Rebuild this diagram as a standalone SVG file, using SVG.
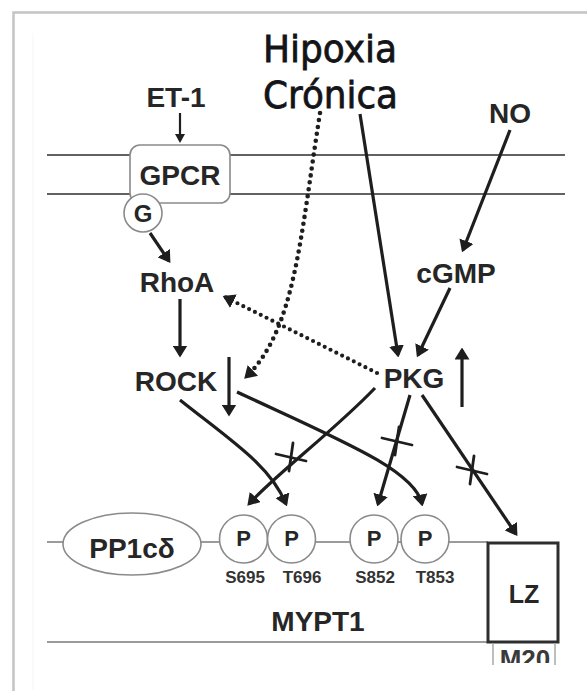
<svg xmlns="http://www.w3.org/2000/svg" width="587" height="691" viewBox="0 0 587 691">
  <style>
    .lbl{font-family:"Liberation Sans",Arial,Helvetica,sans-serif;font-weight:bold;font-size:28px;fill:#262626;text-anchor:middle}
    .p{font-size:22px}
    .site{font-size:17px;fill:#333}
    .title{font-family:"DejaVu Sans",Verdana,Tahoma,sans-serif;font-size:38px;fill:#141418;stroke:#141418;stroke-width:0.8}
    .mem{stroke:#2e2e2e;stroke-width:1.6;fill:none}
    .outline{stroke:#8a8a8a;stroke-width:1.6;fill:#fff}
    .chain{stroke:#7a7a7a;stroke-width:1.6;fill:none}
    .arr{stroke:#1e1e1e;stroke-width:3.2;fill:none;marker-end:url(#head)}
    .arrS{stroke:#1e1e1e;stroke-width:2.2;fill:none;marker-end:url(#headS)}
    .dot{stroke:#1e1e1e;stroke-width:4.6;stroke-linecap:round;stroke-dasharray:0 7;fill:none;marker-end:url(#head)}
    .dot2{stroke:#1e1e1e;stroke-width:4.2;stroke-linecap:round;stroke-dasharray:0 6.5;fill:none;marker-end:url(#head)}
    .x{stroke:#1e1e1e;stroke-width:2.8;stroke-linecap:round;fill:none}
  </style>
  <defs>
    <marker id="head" viewBox="0 0 12 15" refX="9.5" refY="7.5" markerWidth="12" markerHeight="15" markerUnits="userSpaceOnUse" orient="auto">
      <path d="M0,0 L12,7.5 L0,15 z" fill="#1e1e1e"/>
    </marker>
    <marker id="headS" viewBox="0 0 9 10" refX="7" refY="5" markerWidth="9" markerHeight="10" markerUnits="userSpaceOnUse" orient="auto">
      <path d="M0,0 L9,5 L0,10 z" fill="#1e1e1e"/>
    </marker>
    <!-- inhibition mark placed across a phosphorylation arrow -->
    <g id="block">
      <line x1="-15" y1="-3" x2="15" y2="4"/>
      <line x1="2" y1="-14" x2="-2" y2="14"/>
    </g>
    <clipPath id="m20clip">
      <rect x="480" y="640" width="90" height="23"/>
    </clipPath>
  </defs>

  <!-- page frame -->
  <rect width="587" height="691" fill="#fff"/>
  <path d="M13.5,691 L13.5,12.5 L587,12.5" fill="none" stroke="#c4c4c4" stroke-width="2.5"/>
  <path d="M33,690 L33,33" fill="none" stroke="#f6f6f6" stroke-width="1"/>

  <!-- plasma membrane -->
  <g id="membrane">
    <line class="mem" x1="47" y1="155" x2="565" y2="155"/>
    <line class="mem" x1="47" y1="194" x2="565" y2="194"/>
  </g>

  <!-- MYPT1 chain -->
  <g id="mypt1">
    <line class="chain" x1="47" y1="542" x2="488" y2="542"/>
    <line class="chain" x1="47" y1="642" x2="488" y2="642"/>
    <text class="lbl" x="318" y="631">MYPT1</text>
  </g>

  <g id="title">
    <text class="title" x="263" y="62" textLength="134" lengthAdjust="spacingAndGlyphs">Hipoxia</text>
    <text class="title" x="263" y="108" textLength="135" lengthAdjust="spacingAndGlyphs">Crónica</text>
  </g>

  <g id="et1"><text class="lbl" x="176" y="107">ET-1</text></g>
  <g id="no"><text class="lbl" x="510" y="123">NO</text></g>

  <g id="gpcr">
    <rect class="outline" x="130" y="145" width="100" height="58" rx="10"/>
    <text class="lbl" x="180" y="185">GPCR</text>
  </g>
  <g id="gprotein">
    <circle class="outline" cx="143" cy="213" r="19"/>
    <text class="lbl" x="143" y="222" style="font-size:24px">G</text>
  </g>

  <g id="rhoa"><text class="lbl" x="177" y="292">RhoA</text></g>
  <g id="rock"><text class="lbl" x="176" y="391">ROCK</text></g>
  <g id="cgmp"><text class="lbl" x="456" y="283">cGMP</text></g>
  <g id="pkg"><text class="lbl" x="414" y="388">PKG</text></g>

  <g id="pp1c">
    <ellipse class="outline" cx="132" cy="544" rx="69" ry="31"/>
    <text class="lbl" x="132" y="558">PP1cδ</text>
  </g>

  <g id="s695">
    <circle class="outline" cx="243.5" cy="539" r="24"/>
    <text class="lbl p" x="243.5" y="546">P</text>
    <text class="lbl site" x="245" y="583">S695</text>
  </g>
  <g id="t696">
    <circle class="outline" cx="291.5" cy="539" r="24"/>
    <text class="lbl p" x="291.5" y="546">P</text>
    <text class="lbl site" x="302" y="583">T696</text>
  </g>
  <g id="s852">
    <circle class="outline" cx="374" cy="539" r="24"/>
    <text class="lbl p" x="374" y="546">P</text>
    <text class="lbl site" x="375" y="583">S852</text>
  </g>
  <g id="t853">
    <circle class="outline" cx="425" cy="539" r="24"/>
    <text class="lbl p" x="425" y="546">P</text>
    <text class="lbl site" x="435" y="583">T853</text>
  </g>

  <g id="lz">
    <rect x="488" y="543" width="70" height="99" fill="#fff" stroke="#2e2e2e" stroke-width="3"/>
    <text class="lbl" x="524" y="603" style="font-size:25px">LZ</text>
  </g>
  <g id="m20">
    <line x1="493" y1="643" x2="493" y2="665" stroke="#a8a8a8" stroke-width="1.5"/>
    <line x1="555" y1="643" x2="555" y2="665" stroke="#a8a8a8" stroke-width="1.5"/>
    <text class="lbl" x="525" y="668" style="font-size:26px;fill:#3a3a3a" clip-path="url(#m20clip)">M20</text>
  </g>

  <!-- level changes under chronic hypoxia -->
  <g id="indicators">
    <line class="arr" x1="229" y1="357" x2="229" y2="414"/>
    <line class="arr" x1="462" y1="407" x2="462" y2="350"/>
  </g>

  <g id="connectors">
    <line class="arrS" x1="180" y1="113" x2="180" y2="141"/>
    <line class="arr" x1="150" y1="233" x2="169" y2="261"/>
    <line class="arr" x1="180" y1="299" x2="180" y2="355"/>
    <line class="arr" x1="360" y1="114" x2="398" y2="355"/>
    <line class="arr" x1="510" y1="130" x2="463" y2="250"/>
    <line class="arr" x1="450" y1="288" x2="418" y2="355"/>
    <path class="dot" d="M320,113 C300,240 295,330 246,377"/>
    <path class="dot2" d="M377,373 L225,297"/>
    <path class="arr" d="M180,400 C230,440 270,465 286,504"/>
    <path class="arr" d="M237,392 C340,440 415,470 422,504"/>
    <path class="arr" d="M375,388 C335,430 275,475 249,504"/>
    <line class="arr" x1="410" y1="395" x2="378" y2="504"/>
    <line class="arr" x1="422" y1="395" x2="516" y2="534"/>
    <g class="x">
      <use href="#block" x="291" y="457"/>
      <use href="#block" x="397" y="441"/>
      <use href="#block" x="472" y="470"/>
    </g>
  </g>
</svg>
